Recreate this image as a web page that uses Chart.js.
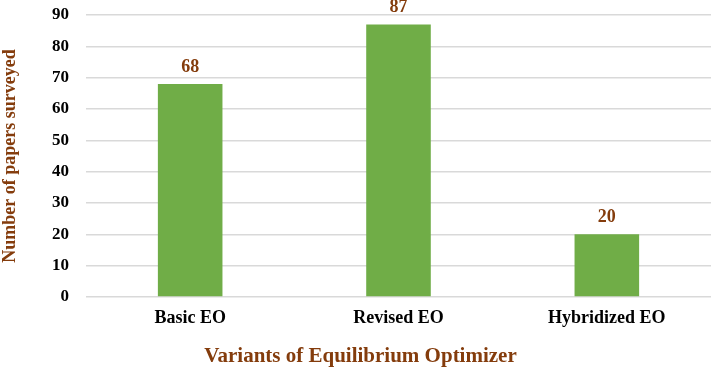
<!DOCTYPE html>
<html>
<head>
<meta charset="utf-8">
<script src="https://cdn.jsdelivr.net/npm/chart.js@4/dist/chart.umd.min.js"></script>
<style>
  html, body { margin: 0; padding: 0; background: #fff; }
  #wrap { width: 711px; height: 371px; }
</style>
</head>
<body>
<div id="wrap"><canvas id="chart" width="711" height="371"></canvas></div>
<script>
const categories = ['Basic EO', 'Revised EO', 'Hybridized EO'];
const papers = [68, 87, 20];
const yMax = 90;
const yStep = 10;
const xTitle = 'Variants of Equilibrium Optimizer';
const yTitle = 'Number of papers surveyed';

const brown = '#843C0C';
const serif = '"Liberation Serif", "Times New Roman", serif';

// value above each bar + x axis title centred on the page
const valueLabels = {
    id: 'valueLabels',
    afterDatasetsDraw(chart) {
        const { ctx } = chart;
        const meta = chart.getDatasetMeta(0);
        ctx.save();
        ctx.font = 'bold 18px ' + serif;
        ctx.fillStyle = brown;
        ctx.textAlign = 'center';
        ctx.textBaseline = 'alphabetic';
        meta.data.forEach((bar, i) => {
            ctx.fillText(String(papers[i]), bar.x, bar.y - 12);
        });
        ctx.font = 'bold 21px ' + serif;
        ctx.textBaseline = 'middle';
        ctx.fillText(xTitle, chart.width / 2 + 5, chart.height - 14);
        ctx.restore();
    }
};

const ctx = document.getElementById('chart').getContext('2d');
new Chart(ctx, {
    type: 'bar',
    data: {
        labels: categories,
        datasets: [{
            data: papers,
            backgroundColor: '#70AD47',
            borderWidth: 0,
            barPercentage: 0.62,
            categoryPercentage: 0.5
        }]
    },
    options: {
        responsive: false,
        animation: false,
        layout: { padding: 0 },
        plugins: {
            legend: { display: false },
            tooltip: { enabled: false }
        },
        scales: {
            x: {
                grid: { display: false, drawTicks: false },
                border: { display: false },
                ticks: {
                    color: '#000',
                    font: { family: serif, size: 18, weight: 'bold' },
                    padding: 11
                },
                afterFit(scale) {
                    scale.height = 74;
                    scale.paddingTop = 0;
                    scale.paddingBottom = 0;
                }
            },
            y: {
                min: 0,
                max: yMax,
                grid: { color: '#D9D9D9', lineWidth: 1.5, drawTicks: false },
                border: { display: false },
                ticks: {
                    stepSize: yStep,
                    color: '#000',
                    font: { family: serif, size: 17, weight: 'bold' },
                    padding: 17
                },
                title: {
                    display: true,
                    text: yTitle,
                    color: brown,
                    font: { family: serif, size: 18, weight: 'bold' },
                    padding: { top: 0, bottom: 10 }
                },
                afterFit(scale) {
                    scale.width = 86;
                    scale.paddingTop = 15;
                    scale.paddingBottom = 0;
                }
            }
        }
    },
    plugins: [valueLabels]
});
</script>
</body>
</html>
